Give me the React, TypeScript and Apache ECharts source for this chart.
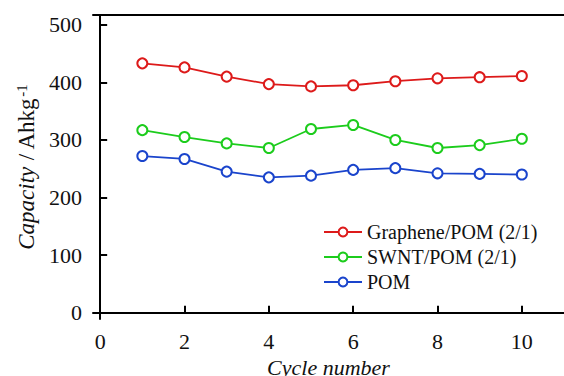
import React, { useEffect, useRef } from "react";
import * as echarts from "echarts";

const cycles = [1, 2, 3, 4, 5, 6, 7, 8, 9, 10];
const graphenePOM = [433, 426, 410, 397, 393, 395, 402, 407, 409, 411];
const swntPOM = [317, 305, 294, 286, 319, 326, 300, 286, 291, 302];
const pom = [272, 267, 245, 235, 238, 248, 251, 242, 241, 240];
const xTicks = [0, 2, 4, 6, 8, 10];
const yTicks = [0, 100, 200, 300, 400, 500];

const seriesNames = ["Graphene/POM (2/1)", "SWNT/POM (2/1)", "POM"];
const seriesColors = ["#dd1a1a", "#1ccc1c", "#1a44cc"];

const FONT = "Liberation Serif";

export default function App() {
  const ref = useRef<HTMLDivElement>(null);
  useEffect(() => {
    if (!ref.current) return;
    const chart = echarts.init(ref.current, null, { renderer: "svg" });
    const dataSets = [graphenePOM, swntPOM, pom];
    const axisLine = { show: true, lineStyle: { color: "#000", width: 2 } };
    chart.setOption({
      animation: false,
      backgroundColor: "#fff",
      textStyle: { fontFamily: FONT },
      grid: { left: 93, top: 15, right: 0, bottom: 57, containLabel: false, outerBoundsMode: "none" },
      legend: {
        orient: "vertical",
        left: 318,
        top: 217,
        itemWidth: 38,
        itemHeight: 11,
        itemGap: 5,
        data: seriesNames,
        textStyle: { fontFamily: FONT, fontSize: 20, color: "#111" },
      },
      xAxis: [
        {
          type: "value",
          min: -0.17,
          max: 11,
          axisLine,
          splitLine: { show: false },
          axisTick: { inside: true, length: 7, customValues: xTicks, lineStyle: { color: "#000", width: 2 } },
          axisLabel: { customValues: xTicks, fontFamily: FONT, fontSize: 22, color: "#111", margin: 11 },
          name: "Cycle number",
          nameLocation: "middle",
          nameGap: 25,
          nameTextStyle: { fontFamily: FONT, fontSize: 22, lineHeight: 22, fontStyle: "italic", color: "#111" },
        },
        {
          type: "value",
          position: "top",
          min: -0.17,
          max: 11,
          axisLine,
          axisTick: { show: false },
          axisLabel: { show: false },
          splitLine: { show: false },
        },
      ],
      yAxis: {
        type: "value",
        min: -11,
        max: 517,
        axisLine,
        splitLine: { show: false },
        axisTick: { inside: true, length: 7, customValues: yTicks, lineStyle: { color: "#000", width: 2 } },
        axisLabel: { customValues: yTicks, fontFamily: FONT, fontSize: 22, color: "#111", margin: 11 },
        name: "{i|Capacity} {n|/ Ahkg}{s|-1}",
        nameLocation: "middle",
        nameGap: 49,
        nameTextStyle: {
          fontFamily: FONT,
          fontSize: 23,
          color: "#111",
          rich: {
            i: { fontFamily: FONT, fontSize: 23, fontStyle: "italic", color: "#111" },
            n: { fontFamily: FONT, fontSize: 23, color: "#111" },
            s: { fontFamily: FONT, fontSize: 15, color: "#111", verticalAlign: "top", padding: [0, 0, 10, 1] },
          },
        },
      },
      series: dataSets.map((d, k) => ({
        name: seriesNames[k],
        type: "line",
        data: cycles.map((c, i) => [c, d[i]]),
        symbol: "emptyCircle",
        symbolSize: 10,
        color: seriesColors[k],
        lineStyle: { color: seriesColors[k], width: 1.8 },
        itemStyle: { color: seriesColors[k], borderWidth: 1.5 },
      })),
    });
    return () => chart.dispose();
  }, []);
  return <div ref={ref} style={{ width: 564, height: 376, position: "fixed", left: 0, top: 0 }} />;
}
